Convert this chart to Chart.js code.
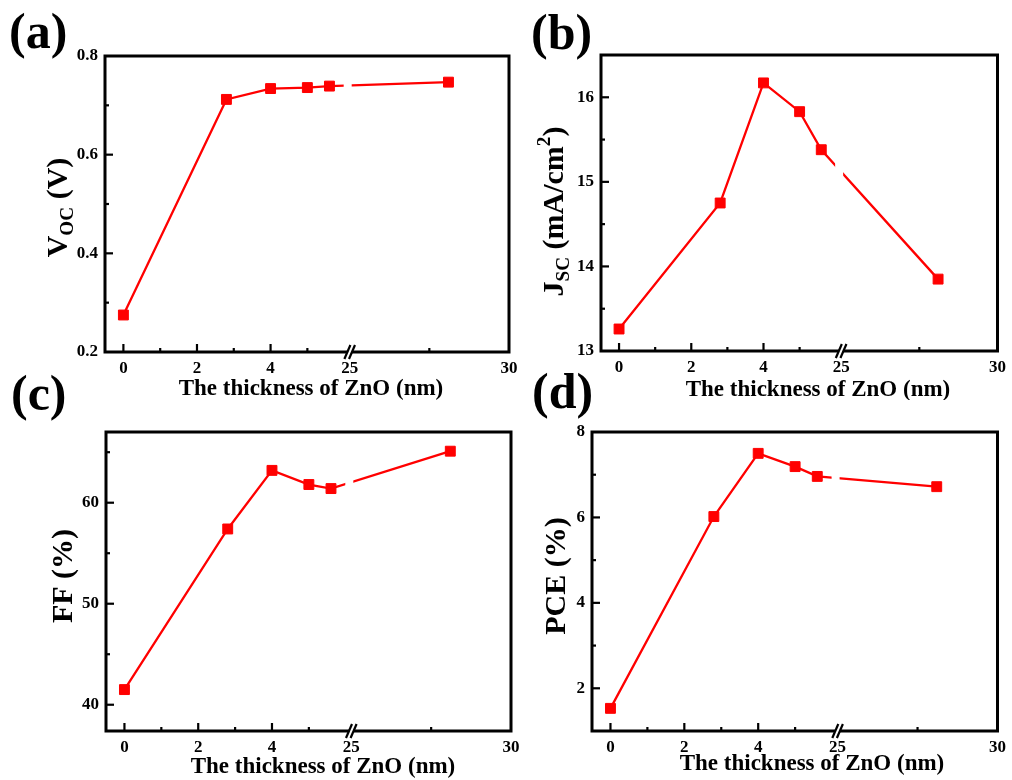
<!DOCTYPE html>
<html><head><meta charset="utf-8">
<script src="https://cdn.jsdelivr.net/npm/chart.js@4/dist/chart.umd.min.js"></script>
<style>
html,body{margin:0;padding:0;background:#fff;}
#page{position:relative;width:1012px;height:780px;overflow:hidden;background:#fff;}
.panel{position:absolute;}
.panel canvas{display:block;}
.lbl{position:absolute;font:bold 50px "Liberation Serif",serif;line-height:50px;color:#000;white-space:nowrap;}
</style></head><body>
<div id="page">
  <div class="panel" style="left:0px;top:0px"><canvas id="ca" width="530" height="400"></canvas></div>
  <div class="panel" style="left:530px;top:0px"><canvas id="cb" width="482" height="400"></canvas></div>
  <div class="panel" style="left:0px;top:400px"><canvas id="cc" width="530" height="380"></canvas></div>
  <div class="panel" style="left:530px;top:400px"><canvas id="cd" width="482" height="380"></canvas></div>
  <div class="lbl" style="left:9px;top:6px">(a)</div>
  <div class="lbl" style="left:531px;top:7px">(b)</div>
  <div class="lbl" style="left:11px;top:368px">(c)</div>
  <div class="lbl" style="left:532px;top:366px">(d)</div>
</div>
<script>
// ---------------- data ----------------
const thickness = [0, 2.8, 4, 5, 5.6, 28.1];           // ZnO thickness (nm)
const voc = [0.275, 0.712, 0.734, 0.736, 0.739, 0.747]; // V
const jsc = [13.26, 14.75, 16.17, 15.83, 15.38, 13.85]; // mA/cm2
const ff  = [41.5, 57.4, 63.2, 61.8, 61.4, 65.1];       // %
const pce = [1.53, 6.02, 7.50, 7.19, 6.96, 6.72];       // %

// x axis (broken): lower segment and upper segment in nm
const xLowerRange = [-0.5, 6.15];
const xUpperRange = [25, 30];
const xTickValues = [0, 2, 4, 25, 30];
const xTickLabels = ['0', '2', '4', '25', '30'];
const xMinorTicks = [1, 3, 5, 27.5];

// y axes
const vocRange = [0.2, 0.8], vocTicks = [0.2, 0.4, 0.6, 0.8], vocMinor = [0.3, 0.5, 0.7];
const jscRange = [13, 16.5], jscTicks = [13, 14, 15, 16], jscMinor = [13.5, 14.5, 15.5];
const ffRange = [37.4, 67], ffTicks = [40, 50, 60], ffMinor = [45, 55, 65];
const pceRange = [1, 8], pceTicks = [2, 4, 6, 8], pceMinor = [3, 5, 7];

const xTitle = 'The thickness of ZnO (nm)';

// ---------------- layout / style ----------------
const UPPER_AXIS_END = 10.48;          // axis units at the right end of the upper segment
const upperScale = (UPPER_AXIS_END - xLowerRange[1]) / (xUpperRange[1] - xUpperRange[0]);
function toAxis(x) {
  return x <= xLowerRange[1] ? x : xLowerRange[1] + (x - xUpperRange[0]) * upperScale;
}
const FONT = '"Liberation Serif", "Times New Roman", serif';
const RED = '#ff0000';

const panels = [
  { id: 'ca', canvas: {l: 0, t: 0, w: 530, h: 400}, area: {l: 105, r: 509, t: 56, b: 352},
    values: voc, range: vocRange, ticks: vocTicks, minor: vocMinor, dec: 1,
    yTitle: [{t: 'V'}, {t: 'OC', sub: true}, {t: ' (V)'}], yBase: 67, yMid: 207.5, xMid: [311, 389] },
  { id: 'cb', canvas: {l: 530, t: 0, w: 482, h: 400}, area: {l: 601, r: 1003, t: 55, b: 351},
    values: jsc, range: jscRange, ticks: jscTicks, minor: jscMinor, dec: 0,
    yTitle: [{t: 'J'}, {t: 'SC', sub: true}, {t: ' (mA/cm'}, {t: '2', sup: true}, {t: ')'}], yBase: 563, yMid: 211.5, xMid: [818, 390] },
  { id: 'cc', canvas: {l: 0, t: 400, w: 530, h: 380}, area: {l: 106, r: 511, t: 432, b: 731},
    values: ff, range: ffRange, ticks: ffTicks, minor: ffMinor, dec: 0,
    yTitle: [{t: 'FF (%)'}], yBase: 72, yMid: 576, xMid: [323, 767] },
  { id: 'cd', canvas: {l: 530, t: 400, w: 482, h: 380}, area: {l: 592, r: 998, t: 432, b: 731},
    values: pce, range: pceRange, ticks: pceTicks, minor: pceMinor, dec: 0,
    yTitle: [{t: 'PCE (%)'}], yBase: 565, yMid: 576, xMid: [812, 764] }
];

function drawRich(ctx, segs, size) {
  const small = size * 0.64;
  let total = 0;
  const widths = segs.map(s => {
    ctx.font = 'bold ' + ((s.sub || s.sup) ? small : size) + 'px ' + FONT;
    const w = ctx.measureText(s.t).width; total += w; return w;
  });
  let x = -total / 2;
  segs.forEach((s, i) => {
    ctx.font = 'bold ' + ((s.sub || s.sup) ? small : size) + 'px ' + FONT;
    const dy = s.sub ? size * 0.2 : (s.sup ? -size * 0.42 : 0);
    ctx.fillText(s.t, x, dy);
    x += widths[i];
  });
}

const decoPlugin = {
  id: 'deco',
  afterDatasetsDraw(chart, args, o) {
    const p = o.panel;
    const {ctx, chartArea: a} = chart;
    const xs = chart.scales.x, ys = chart.scales.y;
    const bx = xs.getPixelForValue(toAxis(xUpperRange[0]));
    ctx.save();
    // gap of the data line at the axis break
    ctx.fillStyle = '#fff';
    ctx.fillRect(bx - 6, a.top + 2, 8, a.bottom - a.top - 4);
    // frame
    ctx.strokeStyle = '#000';
    ctx.lineWidth = 3;
    ctx.lineJoin = 'miter';
    ctx.lineCap = 'square';
    ctx.beginPath();
    ctx.moveTo(bx - 2.5, a.bottom);
    ctx.lineTo(a.left, a.bottom);
    ctx.lineTo(a.left, a.top);
    ctx.lineTo(a.right, a.top);
    ctx.lineTo(a.right, a.bottom);
    ctx.lineTo(bx + 2.5, a.bottom);
    ctx.stroke();
    // break marks
    ctx.lineCap = 'butt';
    ctx.fillStyle = '#fff';
    ctx.beginPath();
    ctx.moveTo(bx - 5, a.bottom + 6); ctx.lineTo(bx + 1, a.bottom - 6);
    ctx.lineTo(bx + 5, a.bottom - 6); ctx.lineTo(bx - 1, a.bottom + 6);
    ctx.closePath(); ctx.fill();
    ctx.lineWidth = 2.2;
    [-2.3, 2.3].forEach(d => {
      ctx.beginPath();
      ctx.moveTo(bx + d - 3, a.bottom + 7);
      ctx.lineTo(bx + d + 3, a.bottom - 7);
      ctx.stroke();
    });
    // inward ticks
    ctx.lineWidth = 2.2;
    const xt = (vals, len) => vals.forEach(v => {
      const px = xs.getPixelForValue(toAxis(v));
      if (px < a.left + 2 || px > a.right - 2 || Math.abs(px - bx) < 4) return;
      ctx.beginPath(); ctx.moveTo(px, a.bottom); ctx.lineTo(px, a.bottom - len); ctx.stroke();
    });
    xt(xTickValues, 8); xt(xMinorTicks, 4);
    const yt = (vals, len) => vals.forEach(v => {
      const py = ys.getPixelForValue(v);
      if (py < a.top + 2 || py > a.bottom - 2) return;
      ctx.beginPath(); ctx.moveTo(a.left, py); ctx.lineTo(a.left + len, py); ctx.stroke();
    });
    yt(p.ticks, 8); yt(p.minor, 4);
    // axis titles
    ctx.fillStyle = '#000';
    ctx.textAlign = 'center';
    ctx.textBaseline = 'middle';
    ctx.font = 'bold 23px ' + FONT;
    ctx.fillText(xTitle, p.xMid[0] - p.canvas.l, p.xMid[1] - p.canvas.t);
    ctx.textAlign = 'left';
    ctx.textBaseline = 'alphabetic';
    ctx.translate(p.yBase - p.canvas.l, p.yMid - p.canvas.t);
    ctx.rotate(-Math.PI / 2);
    drawRich(ctx, p.yTitle, 30);
    ctx.restore();
  }
};

Chart.defaults.font.family = FONT;
Chart.defaults.font.weight = 'bold';
Chart.defaults.font.size = 17;
Chart.defaults.color = '#000';

panels.forEach(p => {
  const c = p.canvas, ar = p.area;
  new Chart(document.getElementById(p.id), {
    type: 'line',
    data: {
      datasets: [{
        data: thickness.map((x, i) => ({x: toAxis(x), y: p.values[i]})),
        borderColor: RED, backgroundColor: RED,
        borderWidth: 2.3, tension: 0,
        pointStyle: 'rect', pointRadius: 7, pointHoverRadius: 7,
        pointBackgroundColor: RED, pointBorderColor: RED, pointBorderWidth: 1
      }]
    },
    options: {
      responsive: false, animation: false, devicePixelRatio: 1,
      layout: { padding: { left: 0, top: ar.t - c.t, right: c.l + c.w - ar.r, bottom: 0 } },
      plugins: { legend: { display: false }, tooltip: { enabled: false }, deco: { panel: p } },
      scales: {
        x: {
          type: 'linear', min: xLowerRange[0], max: UPPER_AXIS_END,
          grid: { display: false, drawTicks: false }, border: { display: false },
          afterBuildTicks: s => { s.ticks = xTickValues.map(v => ({value: toAxis(v)})); },
          afterFit: s => { s.height = c.t + c.h - ar.b; },
          ticks: { autoSkip: false, maxRotation: 0, padding: 6, font: { size: 17, weight: 'bold' },
                   callback: (v, i) => xTickLabels[i] }
        },
        y: {
          type: 'linear', min: p.range[0], max: p.range[1],
          grid: { display: false, drawTicks: false }, border: { display: false },
          afterBuildTicks: s => { s.ticks = p.ticks.map(v => ({value: v})); },
          afterFit: s => { s.width = ar.l - c.l; },
          ticks: { autoSkip: false, padding: 7, font: { size: 17, weight: 'bold' },
                   callback: v => Number(v).toFixed(p.dec) }
        }
      }
    },
    plugins: [decoPlugin]
  });
});
</script>
</body></html>
